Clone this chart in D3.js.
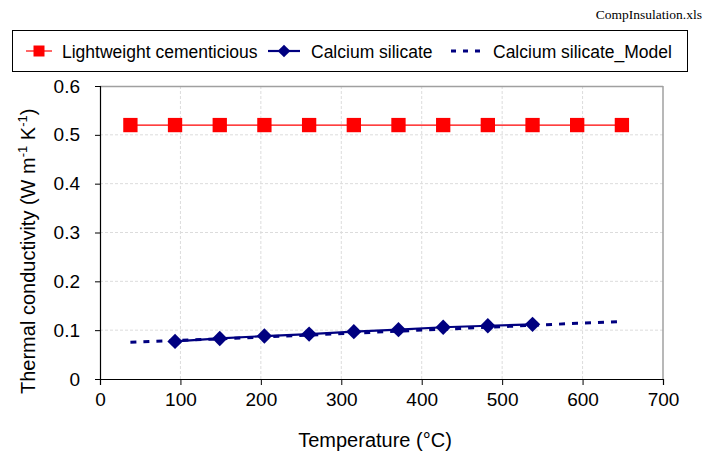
<!DOCTYPE html>
<html>
<head>
<meta charset="utf-8">
<script src="https://cdn.jsdelivr.net/npm/d3@7/dist/d3.min.js"></script>
<style>
  html, body { margin: 0; padding: 0; background: #fff; }
  svg { display: block; }
</style>
</head>
<body>
<svg id="chart" width="704" height="453"></svg>
<script>
// ---- data ----
const temperatures = [37.8, 93.3, 148.9, 204.4, 260, 315.6, 371.1, 426.7, 482.2, 537.8, 593.3, 648.9];
const lightweightValues = [0.52, 0.52, 0.52, 0.52, 0.52, 0.52, 0.52, 0.52, 0.52, 0.52, 0.52, 0.52];
const calciumTemps = [93.3, 148.9, 204.4, 260, 315.6, 371.1, 426.7, 482.2, 537.8];
const calciumValues = [0.077, 0.083, 0.088, 0.092, 0.097, 0.101, 0.106, 0.109, 0.112];
const modelValues = [0.0755, 0.079, 0.082, 0.086, 0.090, 0.094, 0.098, 0.102, 0.106, 0.110, 0.114, 0.1175];
const xTicks = [0, 100, 200, 300, 400, 500, 600, 700];
const yTicks = [0, 0.1, 0.2, 0.3, 0.4, 0.5, 0.6];
const yTickLabels = ["0", "0.1", "0.2", "0.3", "0.4", "0.5", "0.6"];
const seriesNames = ["Lightweight cementicious", "Calcium silicate", "Calcium silicate_Model"];

(function () {
// ---- layout ----
const svg = d3.select("#chart");
const pL = 100, pR = 663, pT = 86, pB = 379;
const x = d3.scaleLinear().domain([0, 700]).range([pL, pR]);
const y = d3.scaleLinear().domain([0, 0.6]).range([pB, pT]);
const red = "#ff0000", navy = "#000080";
const sans = "'Liberation Sans', Arial, sans-serif";

// gridlines
svg.append("g").selectAll("line").data(yTicks.filter(d => d > 0 && d < 0.6)).join("line")
  .attr("x1", pL).attr("x2", pR).attr("y1", d => y(d)).attr("y2", d => y(d))
  .attr("stroke", "#dcdcdc").attr("stroke-dasharray", "3,2").attr("stroke-width", 1);
svg.append("g").selectAll("line").data(xTicks.filter(d => d > 0 && d < 700)).join("line")
  .attr("y1", pT).attr("y2", pB).attr("x1", d => x(d)).attr("x2", d => x(d))
  .attr("stroke", "#dcdcdc").attr("stroke-dasharray", "3,2").attr("stroke-width", 1);

// top & right border
svg.append("line").attr("x1", pL).attr("x2", pR).attr("y1", pT + 0.5).attr("y2", pT + 0.5)
  .attr("stroke", "#a0a0a0").attr("stroke-width", 1.5);
svg.append("line").attr("x1", pR).attr("x2", pR).attr("y1", pT).attr("y2", pB)
  .attr("stroke", "#a0a0a0").attr("stroke-width", 1.5);

// axes
const xAxis = d3.axisBottom(x).tickValues(xTicks).tickSize(6).tickPadding(8).tickFormat(d3.format("d"));
const gx = svg.append("g").attr("transform", `translate(0,${pB})`).call(xAxis);
gx.select(".domain").attr("stroke", "#000").attr("stroke-width", 1.2);
gx.selectAll(".tick line").attr("stroke", "#000");
gx.selectAll(".tick text").attr("font-family", sans).attr("font-size", 19).attr("fill", "#000");

const yAxis = d3.axisLeft(y).tickValues(yTicks).tickSize(5).tickPadding(15)
  .tickFormat((d, i) => yTickLabels[i]);
const gy = svg.append("g").attr("transform", `translate(${pL},0)`).call(yAxis);
gy.select(".domain").attr("stroke", "#000").attr("stroke-width", 1.2);
gy.selectAll(".tick line").attr("stroke", "#000");
gy.selectAll(".tick text").attr("font-family", sans).attr("font-size", 19).attr("fill", "#000");

// model dashed line
const lineGen = d3.line().x(d => x(d[0])).y(d => y(d[1]));
svg.append("path").datum(temperatures.map((t, i) => [t, modelValues[i]]))
  .attr("d", lineGen).attr("fill", "none").attr("stroke", navy)
  .attr("stroke-width", 3).attr("stroke-dasharray", "6,7");

// lightweight line + squares
const lwData = temperatures.map((t, i) => [t, lightweightValues[i]]);
svg.append("path").datum(lwData).attr("d", lineGen).attr("fill", "none")
  .attr("stroke", red).attr("stroke-width", 1.2);
const sq = d3.symbol().type(d3.symbolSquare).size(205);
svg.append("g").selectAll("path").data(lwData).join("path")
  .attr("d", sq).attr("transform", d => `translate(${x(d[0])},${y(d[1])})`).attr("fill", red);

// calcium silicate line + diamonds
const csData = calciumTemps.map((t, i) => [t, calciumValues[i]]);
svg.append("path").datum(csData).attr("d", lineGen).attr("fill", "none")
  .attr("stroke", navy).attr("stroke-width", 2.2);
const dia = d3.symbol().type(d3.symbolSquare).size(118);
svg.append("g").selectAll("path").data(csData).join("path")
  .attr("d", dia).attr("transform", d => `translate(${x(d[0])},${y(d[1])}) rotate(45)`).attr("fill", navy);

// axis titles
svg.append("text").attr("x", 375).attr("y", 447).attr("text-anchor", "middle")
  .attr("font-family", sans).attr("font-size", 20).text("Temperature (°C)");

const yt = svg.append("text").attr("transform", "translate(35,394) rotate(-90)")
  .attr("font-family", sans).attr("font-size", 20);
yt.append("tspan").text("Thermal conductivity (W m");
yt.append("tspan").attr("dy", -8).attr("font-size", 13).text("-1");
yt.append("tspan").attr("dy", 8).text(" K");
yt.append("tspan").attr("dy", -8).attr("font-size", 13).text("-1");
yt.append("tspan").attr("dy", 8).text(")");

// file name
svg.append("text").attr("x", 702).attr("y", 19).attr("text-anchor", "end")
  .attr("font-family", "'Liberation Serif', 'Times New Roman', serif").attr("font-size", 13.5)
  .text("CompInsulation.xls");

// legend
const lg = svg.append("g");
lg.append("rect").attr("x", 12.5).attr("y", 30.5).attr("width", 675).attr("height", 41)
  .attr("fill", "#fff").attr("stroke", "#000").attr("stroke-width", 1);
const ly = 51;
lg.append("line").attr("x1", 26).attr("x2", 52).attr("y1", ly).attr("y2", ly).attr("stroke", red).attr("stroke-width", 1.2);
lg.append("path").attr("d", d3.symbol().type(d3.symbolSquare).size(121)).attr("transform", `translate(39,${ly})`).attr("fill", red);
lg.append("text").attr("x", 62).attr("y", ly + 6.5).attr("font-family", sans).attr("font-size", 17.5).text(seriesNames[0]);
lg.append("line").attr("x1", 268).attr("x2", 300).attr("y1", ly).attr("y2", ly).attr("stroke", navy).attr("stroke-width", 2.2);
lg.append("path").attr("d", d3.symbol().type(d3.symbolSquare).size(80)).attr("transform", `translate(284,${ly}) rotate(45)`).attr("fill", navy);
lg.append("text").attr("x", 311).attr("y", ly + 6.5).attr("font-family", sans).attr("font-size", 17.5).text(seriesNames[1]);
lg.append("line").attr("x1", 451).attr("x2", 485).attr("y1", ly).attr("y2", ly).attr("stroke", navy)
  .attr("stroke-width", 3).attr("stroke-dasharray", "5,7");
lg.append("text").attr("x", 493).attr("y", ly + 6.5).attr("font-family", sans).attr("font-size", 17.5).text(seriesNames[2]);
})();
</script>
</body>
</html>
